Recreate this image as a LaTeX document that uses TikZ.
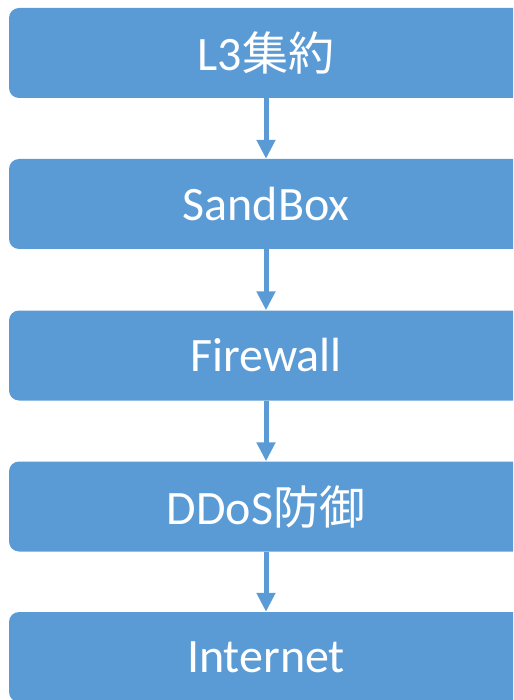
\documentclass[tikz,border=0pt]{standalone}
\usepackage{fontspec}
\setmainfont{Carlito}
\newfontfamily\cjk{Noto Sans CJK JP}[Scale=0.96]
\usetikzlibrary{arrows.meta}
\definecolor{stepblue}{HTML}{5B9BD5}
\begin{document}
\begin{tikzpicture}[x=1pt,y=1pt,
  stagebox/.style={fill=stepblue, draw=none, rounded corners=10pt,
    minimum width=514pt, minimum height=90pt, inner sep=0pt,
    text=white, font=\fontsize{48}{52}\selectfont},
  flow/.style={draw=stepblue, line width=5pt,
    -{Triangle[width=18pt,length=19pt]}}]
\useasboundingbox (0,0) rectangle (513,-700);
\clip (0,0) rectangle (513,-700);
\node[stagebox] (l3)  at (266,-53)  {L3{\cjk 集約}};
\node[stagebox] (sb)  at (266,-204) {SandBox};
\node[stagebox] (fw)  at (266,-355.5) {Firewall};
\node[stagebox] (dd)  at (266,-506.5) {DDoS{\cjk 防御}};
\node[stagebox] (net) at (266,-657) {Internet};
\draw[flow] (l3.south) -- (sb.north);
\draw[flow] (sb.south) -- (fw.north);
\draw[flow] (fw.south) -- (dd.north);
\draw[flow] (dd.south) -- (net.north);
\end{tikzpicture}
\end{document}
